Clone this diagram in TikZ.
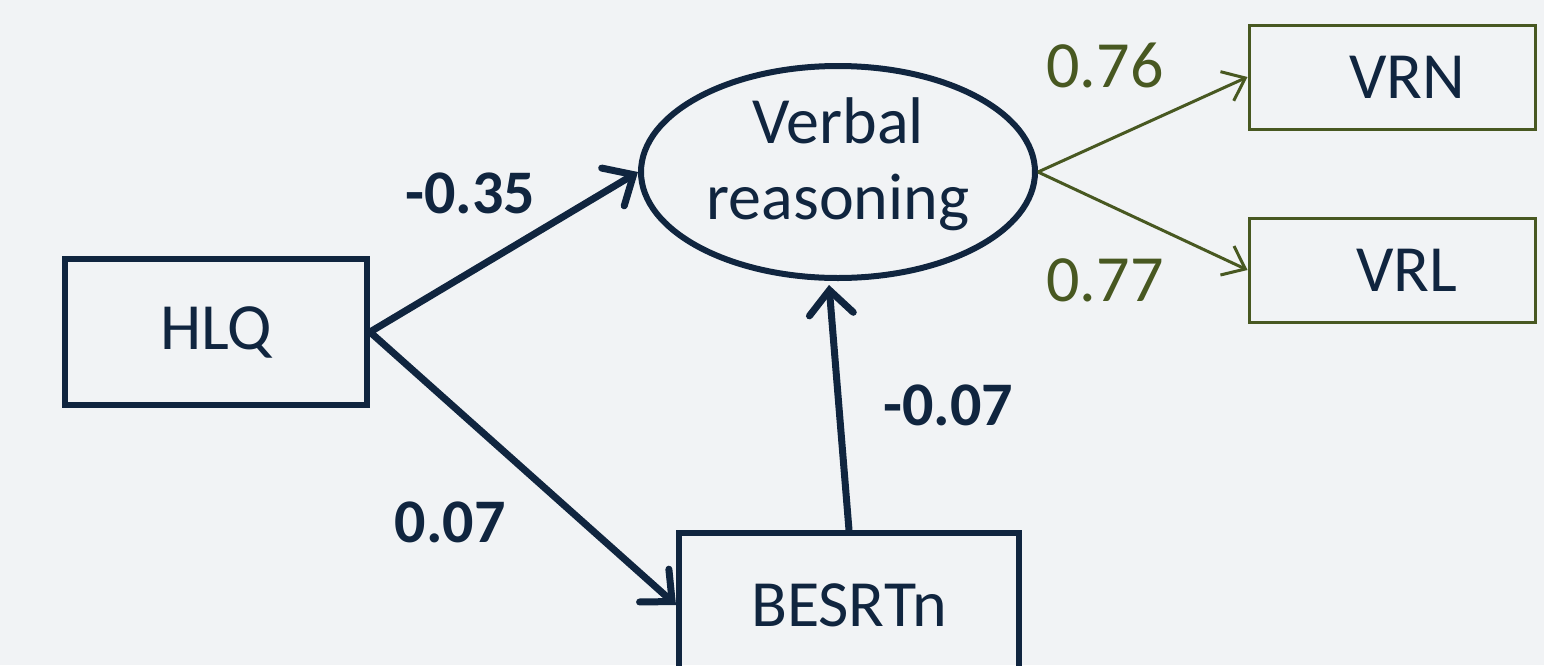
\documentclass[tikz,border=0pt]{standalone}
\usepackage{fontspec}
\setmainfont{Carlito}
\usepackage{xcolor}
\definecolor{navy}{RGB}{16,37,63}
\definecolor{olivegreen}{RGB}{72,88,33}
\definecolor{bgray}{RGB}{241,243,245}
\usepackage{tikz}
\usetikzlibrary{calc}
\usetikzlibrary{arrows.meta, shapes.geometric}

\begin{document}
\begin{tikzpicture}[x=0.5pt, y=-0.5pt,
  obs/.style = {draw=navy, line width=3pt, text=navy, minimum width=151pt, inner sep=0pt, font=\fontsize{33}{38}\selectfont},
  ind/.style = {draw=olivegreen, line width=1.5pt, text=navy, minimum width=143pt, minimum height=52pt, inner sep=0pt, font=\fontsize{33}{38}\selectfont},
  path/.style = {draw=navy, line width=3.5pt, line cap=round, -{Straight Barb[length=12pt, width=22pt, line cap=round]}},
  load/.style = {draw=olivegreen, line width=1.5pt, -{Straight Barb[length=10pt, width=16pt]}},
  coef/.style = {text=navy, font=\fontsize{31}{36}\selectfont\bfseries},
  lcoef/.style = {text=olivegreen, font=\fontsize{33}{38}\selectfont}]
  %canvas
  \fill[bgray] (0, 0) rectangle (1544, 665);
  \useasboundingbox (0, 0) rectangle (1544, 665);

  %observed boxes
  \node[obs, minimum height=73pt] (hlq) at (216, 332) {HLQ};
  \node[obs, minimum width=170pt, minimum height=72pt] (besrt) at (849, 605) {BESRTn};

  %latent
  \node[ellipse, draw=navy, line width=3pt, text=navy, minimum width=197pt, minimum height=106pt, inner sep=0pt,
    align=center, font=\fontsize{33}{38}\selectfont] (vr) at (838, 172) {Verbal\\reasoning\rule[-13.5pt]{0pt}{0pt}};

  %indicators
  \node[ind] (vrn) at (1392, 77) {\hspace*{15pt}VRN};
  \node[ind] (vrl) at (1392, 270) {\hspace*{15pt}VRL};

  %structural paths
  \draw[path] (hlq.east) -- (vr.west);
  \draw[path] (hlq.east) -- (besrt.west);
  \draw[path] (besrt.north) -- ($(vr.south) + (-9, 4)$);

  %loadings
  \draw[load] (vr.east) -- (vrn.west);
  \draw[load] (vr.east) -- (vrl.west);

  %coefficients
  \node[coef] (c1) at (470, 193) {-0.35};
  \node[coef] (c2) at (450, 522) {0.07};
  \node[coef] (c3) at (948, 405) {-0.07};
  \node[lcoef] (l1) at (1105, 65) {0.76};
  \node[lcoef] (l2) at (1105, 280) {0.77};
\end{tikzpicture}
\end{document}
